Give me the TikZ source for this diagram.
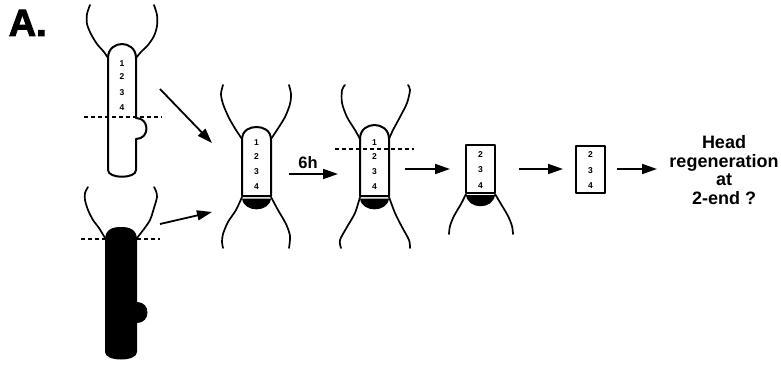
\documentclass[tikz,border=0pt]{standalone}
\usepackage{fontspec}
\setmainfont{Liberation Sans}
\usetikzlibrary{arrows.meta}

\begin{document}
\begin{tikzpicture}[x=1pt,y=-1pt]
	\tikzstyle{outline} = [line width=2pt, line join=round]
	\tikzstyle{tentacle} = [line width=1.7pt, line cap=round]
	\tikzstyle{cut} = [line width=1.6pt, dash pattern=on 4pt off 3pt]
	\tikzstyle{num} = [font=\fontsize{8.5}{9}\selectfont\bfseries, inner sep=0pt]
	\tikzstyle{arrow} = [line width=1.8pt, -{Triangle[length=15pt,width=10pt]}]
	\useasboundingbox (0,0) rectangle (781,366);

	\node (label) [anchor=base west, inner sep=0pt, font=\fontsize{38}{38}\selectfont\bfseries\addfontfeature{FakeBold=2.5}] at (8.5,36) {A.};

	% donor worm, cut below 4
	\draw [outline] (108,170) -- (108,58) .. controls (108,48) and (116,44) .. (122,44) .. controls (128,44) and (136,48) .. (136,58) -- (136,118)
		.. controls (150,118) and (150,139) .. (136,139) -- (136,170) .. controls (136,179) and (108,179) .. (108,170);
	\draw [tentacle] plot[smooth] coordinates {(108,58) (104,52) (97,44) (91,34) (87,24) (87,14) (90,5)};
	\draw [tentacle] plot[smooth] coordinates {(136,58) (141,52) (148,45) (154,36) (157,26) (157,15) (154,5)};
	\foreach \n/\y in {1/64,2/77,3/93,4/108}
		\node (donor\n) [num] at (122,\y) {\n};
	\draw [cut] (84,117) -- (162,117);

	% host worm, head removed
	\fill (105,352) -- (105,240) .. controls (105,229) and (113,227) .. (121,227) .. controls (129,227) and (137,229) .. (137,240) -- (137,302)
		.. controls (151,302) and (151,323) .. (137,323) -- (137,352) .. controls (137,362) and (105,362) .. (105,352) -- cycle;
	\draw [tentacle] plot[smooth] coordinates {(105,238) (99,228) (93,220) (88,210) (85,200) (85,193) (88,187)};
	\draw [tentacle] plot[smooth] coordinates {(137,238) (144,229) (150,220) (154,208) (157,197) (156,191) (154,187)};
	\draw [cut] (81,239) -- (160,239);

	% grafted worm
	\draw [outline] (242,196) -- (242,140) .. controls (242,130) and (250,127) .. (256.5,127) .. controls (263,127) and (271,130) .. (271,140) -- (271,196) -- cycle;
	\fill (242,198.5) .. controls (244,213) and (269,213) .. (271,198.5) -- cycle;
	\draw [tentacle] plot[smooth] coordinates {(242,139) (236,130) (229,118) (223,104) (221,94) (223,85)};
	\draw [tentacle] plot[smooth] coordinates {(271,139) (277,130) (285,117) (290,104) (291,94) (289,85)};
	\draw [tentacle] plot[smooth] coordinates {(242,197) (236,210) (228,222) (223,234) (222,242) (223,248)};
	\draw [tentacle] plot[smooth] coordinates {(271,197) (278,210) (286,224) (290,236) (289,248)};
	\foreach \n/\y in {1/143,2/157,3/172,4/187}
		\node (graft\n) [num] at (256.5,\y) {\n};

	% same worm after 6h, cut below 1
	\draw [outline] (360,196) -- (360,139) .. controls (360,129) and (368,125) .. (374.5,125) .. controls (381,125) and (389,129) .. (389,139) -- (389,196) -- cycle;
	\fill (360,198.5) .. controls (362,213) and (387,213) .. (389,198.5) -- cycle;
	\draw [tentacle] plot[smooth] coordinates {(360,139) (355,130) (347,117) (342,103) (342,90) (345,85)};
	\draw [tentacle] plot[smooth] coordinates {(389,139) (393,130) (400,117) (407,103) (410,90) (408,85)};
	\draw [tentacle] plot[smooth] coordinates {(360,197) (355,213) (347,227) (340,240) (341,248)};
	\draw [tentacle] plot[smooth] coordinates {(389,197) (395,213) (402,227) (409,240) (410,248)};
	\foreach \n/\y in {1/143,2/157,3/172,4/187}
		\node (later\n) [num] at (374.5,\y) {\n};
	\draw [cut] (335,149) -- (414,149);

	% fragment with host tissue
	\draw [outline] (466,145) rectangle (495,193);
	\draw [line width=2.6pt] (466,145) -- (495,145);
	\fill (466,195) .. controls (468,210) and (493,210) .. (495,195) -- cycle;
	\draw [tentacle] plot[smooth] coordinates {(466,194) (461,204) (454,216) (450,226) (449,234)};
	\draw [tentacle] plot[smooth] coordinates {(495,194) (501,204) (508,216) (512,226) (513,234)};
	\foreach \n/\y in {2/155,3/170,4/186}
		\node (frag\n) [num] at (480.5,\y) {\n};

	% isolated fragment
	\draw [outline] (576,146) rectangle (605,193);
	\foreach \n/\y in {2/155,3/171,4/186}
		\node (piece\n) [num] at (590.5,\y) {\n};

	\node (question) [align=center, font=\fontsize{18}{18.4}\selectfont\bfseries] at (724,170) {Head\\regeneration\\at\\2-end ?};
	\node (sixh) [font=\fontsize{16.5}{17}\selectfont\bfseries] at (308,163) {6h};

	\coordinate (donorout) at (160,89);
	\coordinate (graftin) at (212,143);
	\coordinate (hostout) at (160,224);
	\coordinate (hostin) at (212,212);
	\coordinate (graftout) at (289,174);
	\coordinate (laterin) at (338,174);
	\coordinate (laterout) at (405,169);
	\coordinate (fragin) at (450,169);
	\coordinate (fragout) at (519,169);
	\coordinate (piecein) at (563,169);
	\coordinate (pieceout) at (617,169);
	\coordinate (questionin) at (657,169);
	\draw [arrow] (donorout) -- (graftin);
	\draw [arrow] (hostout) -- (hostin);
	\draw [arrow] (graftout) -- (laterin);
	\draw [arrow] (laterout) -- (fragin);
	\draw [arrow] (fragout) -- (piecein);
	\draw [arrow] (pieceout) -- (questionin);
\end{tikzpicture}
\end{document}
